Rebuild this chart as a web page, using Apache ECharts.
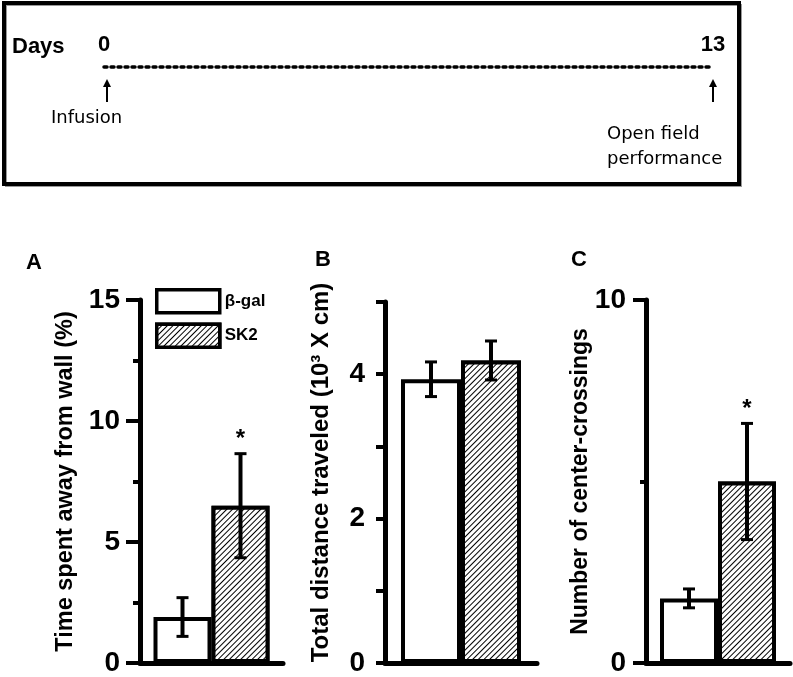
<!DOCTYPE html>
<html>
<head>
<meta charset="utf-8">
<script src="https://cdn.jsdelivr.net/npm/echarts@6/dist/echarts.min.js"></script>
<style>
html,body{margin:0;padding:0;background:#fff;}
#chart{width:793px;height:677px;}
</style>
</head>
<body>
<div id="chart"></div>
<script>
// ---- data ----
const groups = ['β-gal', 'SK2'];

const timelineDays = [0, 13];
const timelineNotes = ['Infusion', 'Open field\nperformance'];

const panelLabels = ['A', 'B', 'C'];
const yTitles = ['Time spent away from wall (%)', 'Total distance traveled (10³ X cm)', 'Number of center-crossings'];

const meanA = [1.9, 6.5];
const errA = [0.8, 2.15];
const sigA = [0, 1];

const meanB = [3.93, 4.19];
const errB = [0.24, 0.27];
const sigB = [0, 0];

const meanC = [1.78, 5.0];
const errC = [0.26, 1.6];
const sigC = [0, 1];

const yMax = [15, 5, 10];
const yInterval = [5, 1, 10];

// ---- build ----
const FONT = '"Liberation Sans", Arial, sans-serif';
const chart = echarts.init(document.getElementById('chart'), null, {renderer: 'canvas'});

const hatch = {
  symbol: 'rect', symbolSize: 1,
  dashArrayX: [1, 0], dashArrayY: [1, 3],
  rotation: -Math.PI / 4,
  color: '#000', backgroundColor: '#fff'
};

const panels = [
  {mean: meanA, err: errA, sig: sigA, grid: {left: 140, top: 300, width: 143, height: 365}, bw: 58, tick: 14, minor: 7, minorSplit: 2, gap: 62, fs: 23.5, pad: 0},
  {mean: meanB, err: errB, sig: sigB, grid: {left: 385, top: 302, width: 152, height: 363}, bw: 60, tick: 9, minor: 0, minorSplit: 0, gap: 52, fs: 24, pad: 20},
  {mean: meanC, err: errC, sig: sigC, grid: {left: 646, top: 300, width: 144, height: 365}, bw: 58, tick: 13, minor: 6, minorSplit: 2, gap: 54, fs: 23, pad: 0}
];

const grids = [], xAxes = [], yAxes = [], series = [];

panels.forEach((p, k) => {
  grids.push(p.grid);
  xAxes.push({
    type: 'category', gridIndex: k, data: ['m'],
    axisLine: {lineStyle: {color: '#000', width: 5}},
    axisTick: {show: false}, axisLabel: {show: false}, splitLine: {show: false}
  });
  yAxes.push({
    type: 'value', gridIndex: k, min: 0, max: yMax[k], interval: yInterval[k],
    axisLine: {show: true, lineStyle: {color: '#000', width: 5}},
    axisTick: {show: true, length: p.tick, lineStyle: {color: '#000', width: 4}},
    minorTick: {show: p.minorSplit > 0, splitNumber: p.minorSplit || 5, length: p.minor, lineStyle: {color: '#000', width: 4}},
    splitLine: {show: false}, minorSplitLine: {show: false},
    axisLabel: {
      color: '#000', fontSize: 28, fontWeight: 'bold', fontFamily: FONT, margin: 20,
      formatter: k === 1 ? (v => (v % 2 === 0 ? String(v) : '')) : (v => String(v))
    },
    name: yTitles[k], nameLocation: 'middle', nameRotate: 90, nameGap: p.gap,
    nameMoveOverlap: false,
    nameTextStyle: {color: '#000', fontSize: p.fs, fontWeight: 'bold', fontFamily: FONT, padding: [0, 0, 0, p.pad]}
  });
  groups.forEach((g, i) => {
    series.push({
      type: 'bar', name: g, xAxisIndex: k, yAxisIndex: k,
      data: [p.mean[i]], barWidth: p.bw, barGap: '0%',
      itemStyle: Object.assign({color: '#fff', borderColor: '#000', borderWidth: 4}, i === 1 ? {decal: hatch} : {}),
      emphasis: {disabled: true}, z: 2
    });
  });
  series.push({
    type: 'custom', xAxisIndex: k, yAxisIndex: k, z: 5, silent: true,
    encode: {x: 0, y: 1},
    data: p.mean.map((m, i) => [0, m, p.err[i], i, p.sig[i]]),
    renderItem: (params, api) => {
      const m = api.value(1), e = api.value(2), i = api.value(3), s = api.value(4);
      const c = api.coord([0, m]);
      const x = c[0] + (i - 0.5) * p.bw;
      const yt = api.coord([0, m + e])[1];
      const yb = api.coord([0, m - e])[1];
      const ch = [
        {type: 'line', shape: {x1: x, y1: yt, x2: x, y2: yb}, style: {stroke: '#000', lineWidth: 4}},
        {type: 'line', shape: {x1: x - 6, y1: yt, x2: x + 6, y2: yt}, style: {stroke: '#000', lineWidth: 3}},
        {type: 'line', shape: {x1: x - 6, y1: yb, x2: x + 6, y2: yb}, style: {stroke: '#000', lineWidth: 3}}
      ];
      if (s) {
        ch.push({type: 'text', style: {text: '*', x: x, y: yt - 14, align: 'center', verticalAlign: 'middle', fontSize: 24, fontWeight: 'bold', fontFamily: FONT, fill: '#000'}});
      }
      return {type: 'group', children: ch};
    }
  });
});

// timeline grid
grids.push({left: 104, top: 67, width: 609, height: 35});
xAxes.push({
  type: 'value', gridIndex: 3, min: 0, max: 13, interval: 13, position: 'top',
  axisLine: {onZero: false, lineStyle: {color: '#000', width: 3.5, type: [3, 4]}},
  axisTick: {show: false}, splitLine: {show: false},
  axisLabel: {color: '#000', fontSize: 22, fontWeight: 'bold', fontFamily: FONT, margin: 11}
});
yAxes.push({type: 'value', gridIndex: 3, min: 0, max: 1, show: false});
series.push({
  type: 'custom', xAxisIndex: 3, yAxisIndex: 3, silent: true,
  encode: {x: 0, y: 1},
  data: timelineDays.map(d => [d, 0]),
  renderItem: (params, api) => {
    const b = api.coord([api.value(0), 0]);
    const t = api.coord([api.value(0), 1]);
    const x = b[0] + (api.value(0) === 0 ? 3 : 0);
    const tip = t[1] + 12;
    return {type: 'group', children: [
      {type: 'line', shape: {x1: x, y1: tip + 4, x2: x, y2: b[1]}, style: {stroke: '#000', lineWidth: 2}},
      {type: 'polygon', shape: {points: [[x, tip], [x - 4, tip + 8], [x + 4, tip + 8]]}, style: {fill: '#000'}}
    ]};
  }
});

const option = {
  backgroundColor: '#fff',
  animation: false,
  grid: grids, xAxis: xAxes, yAxis: yAxes, series: series,
  legend: {
    data: groups, left: 155, top: 288, orient: 'vertical', padding: 0,
    itemWidth: 63, itemHeight: 23, itemGap: 8, icon: 'rect',
    itemStyle: {borderWidth: 3.5, borderColor: '#000'},
    selectedMode: false,
    textStyle: {color: '#000', fontSize: 17, fontWeight: 'bold', fontFamily: FONT}
  },
  graphic: [
    {type: 'rect', shape: {x: 6, y: 5, width: 735, height: 181}, style: {fill: 'none', stroke: '#999', lineWidth: 2}, z: 0},
    {type: 'rect', shape: {x: 4, y: 3, width: 735, height: 181}, style: {fill: 'none', stroke: '#000', lineWidth: 4}, z: 1},
    {type: 'text', left: 12, top: 36, style: {text: 'Days', fontSize: 22, fontWeight: 'bold', fontFamily: FONT, fill: '#000'}},
    {type: 'text', left: 51, top: 109, style: {text: timelineNotes[0], fontSize: 18, fontFamily: '"DejaVu Sans", sans-serif', fill: '#000'}},
    {type: 'text', left: 607, top: 122, style: {text: timelineNotes[1], fontSize: 18, lineHeight: 25, fontFamily: '"DejaVu Sans", sans-serif', fill: '#000'}},
    {type: 'text', left: 26, top: 252, style: {text: panelLabels[0], fontSize: 22, fontWeight: 'bold', fontFamily: FONT, fill: '#000'}},
    {type: 'text', left: 315, top: 249, style: {text: panelLabels[1], fontSize: 22, fontWeight: 'bold', fontFamily: FONT, fill: '#000'}},
    {type: 'text', left: 571, top: 249, style: {text: panelLabels[2], fontSize: 22, fontWeight: 'bold', fontFamily: FONT, fill: '#000'}}
  ]
};
chart.setOption(option);
</script>
</body>
</html>
